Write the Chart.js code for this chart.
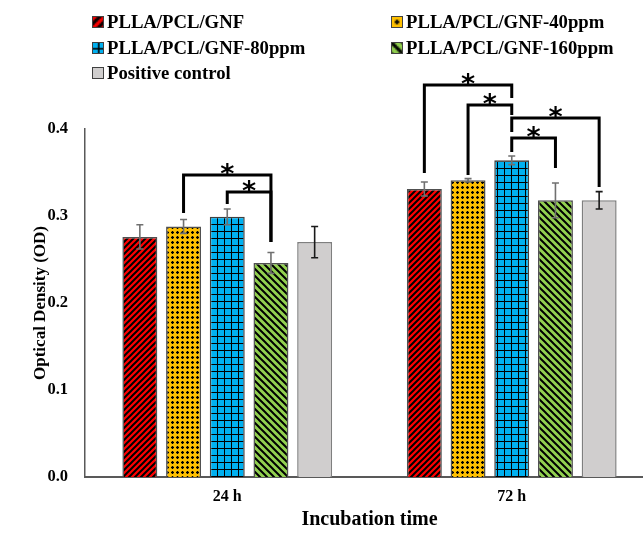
<!DOCTYPE html>
<html>
<head>
<meta charset="utf-8">
<script src="https://cdn.jsdelivr.net/npm/chart.js@4.4.1/dist/chart.umd.min.js"></script>
<style>
    html, body { margin: 0; padding: 0; background: #fff; overflow: hidden; }
    #wrap { position: relative; width: 654px; height: 533px; }
    #legend { position: absolute; left: 0; top: 0; width: 654px; height: 90px; }
    .item { position: absolute; display: flex; align-items: center; font: bold 18.7px "Liberation Serif", "Times New Roman", serif; color: #000; white-space: nowrap; }
    .item canvas { border: 1px solid #404040; margin-right: 3px; }
</style>
</head>
<body>
<div id="wrap">
    <canvas id="od-chart" width="654" height="533"></canvas>
    <div id="legend"></div>
</div>
<script>
const categories = ["24 h", "72 h"];
const series_names = ["PLLA/PCL/GNF", "PLLA/PCL/GNF-40ppm", "PLLA/PCL/GNF-80ppm", "PLLA/PCL/GNF-160ppm", "Positive control"];

// mean OD per group, one array per sample
const gnf_values = [0.276, 0.331];
const gnf40_values = [0.288, 0.341];
const gnf80_values = [0.299, 0.364];
const gnf160_values = [0.246, 0.318];
const control_values = [0.270, 0.318];

// standard deviations
const gnf_err = [0.014, 0.008];
const gnf40_err = [0.008, 0.002];
const gnf80_err = [0.009, 0.005];
const gnf160_err = [0.012, 0.020];
const control_err = [0.018, 0.010];

const y_ticks = [0.0, 0.1, 0.2, 0.3, 0.4];

// significance brackets (dataset indexes and OD levels)
const bracket_group = [0, 0, 1, 1, 1, 1];
const bracket_from = [1, 2, 0, 1, 2, 2];
const bracket_to = [3, 3, 2, 2, 4, 3];
const bracket_top = [0.347, 0.3276, 0.4506, 0.4276, 0.4126, 0.3897];
const bracket_from_end = [0.3034, 0.3138, 0.3494, 0.3471, 0.3966, 0.3736];
const bracket_to_end = [0.270, 0.270, 0.4356, 0.4161, 0.3333, 0.3552];

function make_pattern(kind) {
    let c = document.createElement("canvas");
    let ctx = c.getContext("2d");
    if (kind == "red") {
        c.width = 6; c.height = 6;
        ctx.fillStyle = "#ff0000";
        ctx.fillRect(0, 0, 6, 6);
        ctx.strokeStyle = "#000";
        ctx.lineWidth = 2;
        ctx.beginPath();
        ctx.moveTo(-1, 7); ctx.lineTo(7, -1);
        ctx.moveTo(-4, 4); ctx.lineTo(4, -4);
        ctx.moveTo(2, 10); ctx.lineTo(10, 2);
        ctx.stroke();
    } else if (kind == "yellow") {
        c.width = 5; c.height = 5;
        ctx.fillStyle = "#ffc000";
        ctx.fillRect(0, 0, 5, 5);
        ctx.fillStyle = "#000";
        ctx.fillRect(1, 2, 3, 1);
        ctx.fillRect(2, 1, 1, 3);
        ctx.fillRect(1.5, 1.5, 2, 2);
    } else if (kind == "blue") {
        c.width = 7; c.height = 7;
        ctx.fillStyle = "#00b0f0";
        ctx.fillRect(0, 0, 7, 7);
        ctx.fillStyle = "#000";
        ctx.fillRect(0, 0, 7, 1);
        ctx.fillRect(0, 0, 1, 7);
    } else if (kind == "green") {
        c.width = 7; c.height = 7;
        ctx.fillStyle = "#92d050";
        ctx.fillRect(0, 0, 7, 7);
        ctx.strokeStyle = "#000";
        ctx.lineWidth = 2;
        ctx.beginPath();
        ctx.moveTo(-1, -1); ctx.lineTo(8, 8);
        ctx.moveTo(-4.5, 2.5); ctx.lineTo(4.5, 11.5);
        ctx.moveTo(2.5, -4.5); ctx.lineTo(11.5, 4.5);
        ctx.stroke();
    }
    return c;
}

const tiles = ["red", "yellow", "blue", "green"].map(k => make_pattern(k));
const main_ctx = document.getElementById("od-chart").getContext("2d");
const fills = tiles.map(t => main_ctx.createPattern(t, "repeat"));
fills.push("#d0cece");

const all_values = [gnf_values, gnf40_values, gnf80_values, gnf160_values, control_values];
const all_err = [gnf_err, gnf40_err, gnf80_err, gnf160_err, control_err];
const err_colors = ["#707070", "#707070", "#707070", "#707070", "#1a1a1a"];
const border_colors = ["#505050", "#505050", "#404040", "#505050", "#7f7f7f"];

// html legend in two columns
function build_legend() {
    let spots = [[92, 22], [391, 22], [92, 48], [391, 48], [92, 73]];
    let shift = [-1, 0.6, 3.1, -1];
    let legend = document.getElementById("legend");
    for (let i = 0; i < series_names.length; i++) {
        let item = document.createElement("div");
        item.className = "item";
        item.style.left = spots[i][0] + "px";
        item.style.top = (spots[i][1] - 11) + "px";
        item.style.height = "22px";
        let sw = document.createElement("canvas");
        sw.width = 10; sw.height = 10;
        let sctx = sw.getContext("2d");
        if (i < 4) {
            // legend keys show the hatch a bit larger
            sctx.scale(1.6, 1.6);
            sctx.translate(shift[i], shift[i]);
            sctx.fillStyle = sctx.createPattern(tiles[i], "repeat");
            sctx.fillRect(-shift[i], -shift[i], 10, 10);
        } else {
            sctx.fillStyle = fills[4];
            sctx.fillRect(0, 0, 10, 10);
        }
        item.appendChild(sw);
        let label = document.createElement("span");
        label.textContent = series_names[i];
        item.appendChild(label);
        legend.appendChild(item);
    }
}

const error_bars = {
    id: "error_bars",
    afterDatasetsDraw(chart) {
        let ctx = chart.ctx;
        let y = chart.scales.y;
        ctx.save();
        chart.data.datasets.forEach((ds, di) => {
            let meta = chart.getDatasetMeta(di);
            meta.data.forEach((bar, i) => {
                let top = y.getPixelForValue(all_values[di][i] + all_err[di][i]);
                let bot = y.getPixelForValue(all_values[di][i] - all_err[di][i]);
                ctx.strokeStyle = err_colors[di];
                ctx.lineWidth = 1.6;
                ctx.beginPath();
                ctx.moveTo(bar.x, top); ctx.lineTo(bar.x, bot);
                ctx.moveTo(bar.x - 3.5, top); ctx.lineTo(bar.x + 3.5, top);
                ctx.moveTo(bar.x - 3.5, bot); ctx.lineTo(bar.x + 3.5, bot);
                ctx.stroke();
            });
        });
        ctx.restore();
    }
};

const brackets = {
    id: "brackets",
    afterDraw(chart) {
        let ctx = chart.ctx;
        let y = chart.scales.y;
        ctx.save();
        ctx.strokeStyle = "#000";
        ctx.lineWidth = 3;
        ctx.lineJoin = "miter";
        ctx.fillStyle = "#000";
        ctx.font = "bold 27px 'DejaVu Sans', sans-serif";
        ctx.textAlign = "center";
        ctx.textBaseline = "alphabetic";
        for (let b = 0; b < bracket_group.length; b++) {
            let x1 = chart.getDatasetMeta(bracket_from[b]).data[bracket_group[b]].x;
            let x2 = chart.getDatasetMeta(bracket_to[b]).data[bracket_group[b]].x;
            let yt = y.getPixelForValue(bracket_top[b]);
            ctx.beginPath();
            ctx.moveTo(x1, y.getPixelForValue(bracket_from_end[b]));
            ctx.lineTo(x1, yt);
            ctx.lineTo(x2, yt);
            ctx.lineTo(x2, y.getPixelForValue(bracket_to_end[b]));
            ctx.stroke();
            ctx.fillText("*", (x1 + x2) / 2, yt + 8);
        }
        ctx.restore();
    }
};

function draw_chart() {
    let datasets = series_names.map((name, i) => ({
        label: name,
        data: all_values[i],
        backgroundColor: fills[i],
        borderColor: border_colors[i],
        borderWidth: 1.5,
        barPercentage: 0.8,
        categoryPercentage: 0.768
    }));

    new Chart(main_ctx, {
        type: "bar",
        data: { labels: categories, datasets: datasets },
        plugins: [error_bars, brackets],
        options: {
            responsive: false,
            devicePixelRatio: 1,
            animation: false,
            layout: { padding: { top: 129, left: 0, right: 0, bottom: 0 } },
            plugins: {
                legend: { display: false },
                tooltip: { enabled: false }
            },
            scales: {
                x: {
                    grid: { display: false, drawTicks: false },
                    border: { display: true, color: "#595959", width: 2 },
                    ticks: {
                        color: "#000",
                        padding: 10,
                        font: { family: "'Liberation Serif'", size: 16, weight: "bold" }
                    },
                    title: {
                        display: true,
                        text: "Incubation time",
                        color: "#000",
                        padding: { top: 0, bottom: 1 },
                        font: { family: "'Liberation Serif'", size: 20, weight: "bold" }
                    },
                    afterFit: (scale) => { scale.height = 56; }
                },
                y: {
                    min: 0,
                    max: 0.4,
                    afterBuildTicks: (scale) => { scale.ticks = y_ticks.map(v => ({ value: v })); },
                    grid: { display: false, drawTicks: false },
                    border: { display: true, color: "#595959", width: 1.5 },
                    ticks: {
                        color: "#000",
                        padding: 17,
                        font: { family: "'Liberation Serif'", size: 16.5, weight: "bold" },
                        callback: (v) => Number(v).toFixed(1)
                    },
                    title: {
                        display: true,
                        text: "Optical Density (OD)",
                        color: "#000",
                        padding: { top: 30, bottom: 0 },
                        font: { family: "'Liberation Serif'", size: 17, weight: "bold" }
                    },
                    afterFit: (scale) => { scale.width = 85; }
                }
            }
        }
    });
}

build_legend();
draw_chart();
</script>
</body>
</html>
